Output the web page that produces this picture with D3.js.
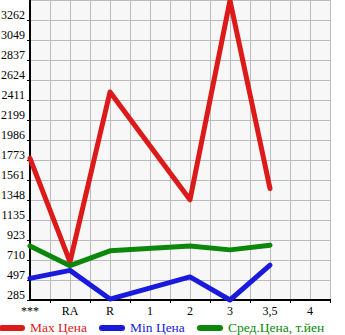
<!DOCTYPE html>
<html><head><meta charset="utf-8">
<script src="https://cdn.jsdelivr.net/npm/d3@7"></script>
<style>body{margin:0;background:#fff}svg{display:block}</style>
</head><body>
<script>
const categories = ["***","RA","R","1","2","3","3,5","4"];
const yTicks = [285,497,710,923,1135,1348,1561,1773,1986,2199,2411,2624,2837,3049,3262];
const maxPrice = [1790, 690, 2496, null, 1350, 3470, 1470, null];
const minPrice = [515, 600, 295, null, 530, 285, 655, null];
const avgPrice = [860, 650, 808, null, 860, 818, 868, null];
const seriesNames = ["Max Цена","Min Цена","Сред.Цена, т.йен"];
const seriesColors = ["#dd1a1a","#1a1add","#0b870b"];

const W=345,H=335, pL=30, pR=330, pT=0, pB=300;
const svg=d3.select("body").append("svg").attr("width",W).attr("height",H);
const step=(yTicks[yTicks.length-1]-yTicks[0])/(yTicks.length-1);
const y=d3.scaleLinear().domain([yTicks[0], yTicks[0]+step*yTicks.length]).range([pB,pT]);
const x=d3.scaleLinear().domain([0,categories.length-0.5]).range([pL,pR]);

svg.append("rect").attr("x",pL).attr("y",pT).attr("width",pR-pL).attr("height",pB-pT).attr("fill","#f7f7f7");
const g=svg.append("g");
const xg=d3.range(0,categories.length+0.5,0.5);
g.selectAll(".vx").data(xg).enter().append("line")
 .attr("x1",d=>x(d)+0.5).attr("x2",d=>x(d)+0.5).attr("y1",pT).attr("y2",pB).attr("stroke","#bbbbbb").attr("stroke-width",1);
const yg=d3.range(0,yTicks.length+1).map(i=>yTicks[0]+step*i);
g.selectAll(".hy").data(yg).enter().append("line")
 .attr("x1",pL).attr("x2",pR).attr("y1",d=>Math.round(y(d))+0.5).attr("y2",d=>Math.round(y(d))+0.5).attr("stroke","#bbbbbb").attr("stroke-width",1);

// y axis
const ya=svg.append("g").attr("transform",`translate(${pL},0)`)
 .call(d3.axisLeft(y).tickValues(yTicks).tickSize(3).tickPadding(2).tickFormat(d=>d));
ya.select(".domain").remove();
ya.selectAll("text").attr("font-family","Liberation Serif").attr("font-size",12).attr("fill","#000").attr("dy","-0.1em");
ya.selectAll("line").attr("stroke","#000");
// x axis
const xa=svg.append("g").attr("transform",`translate(0,${pB})`)
 .call(d3.axisBottom(x).tickValues(d3.range(0,categories.length).map(i=>i+0.5)).tickSize(3).tickFormat(""));
xa.select(".domain").remove();
xa.selectAll("line").attr("stroke","#000");
svg.append("g").selectAll("text").data(categories).enter().append("text")
 .attr("x",(d,i)=>x(i)).attr("y",pB+15).attr("text-anchor","middle")
 .attr("font-family","Liberation Serif").attr("font-size",12).text(d=>d);

svg.append("line").attr("x1",pL).attr("x2",pL).attr("y1",pT).attr("y2",pB+1).attr("stroke","#000").attr("stroke-width",2);
svg.append("line").attr("x1",pL-1).attr("x2",pR+1).attr("y1",pB).attr("y2",pB).attr("stroke","#000").attr("stroke-width",2);

const line=d3.line().x(d=>x(d.i)).y(d=>y(d.v));
[maxPrice,minPrice,avgPrice].forEach((arr,k)=>{
  const pts=arr.map((v,i)=>({v,i})).filter(d=>d.v!=null);
  svg.append("path").attr("d",line(pts)).attr("fill","none").attr("stroke",seriesColors[k])
   .attr("stroke-width",5).attr("stroke-linejoin","round").attr("stroke-linecap","round");
});

// legend
const lx=[0,100,198];
seriesNames.forEach((n,k)=>{
  svg.append("line").attr("x1",lx[k]+2).attr("x2",lx[k]+22).attr("y1",328).attr("y2",328)
   .attr("stroke",seriesColors[k]).attr("stroke-width",6).attr("stroke-linecap","round");
  svg.append("text").attr("x",lx[k]+30).attr("y",332).attr("font-family","Liberation Serif")
   .attr("font-size",13.5).attr("fill",seriesColors[k]).text(n);
});
</script>
</body></html>
